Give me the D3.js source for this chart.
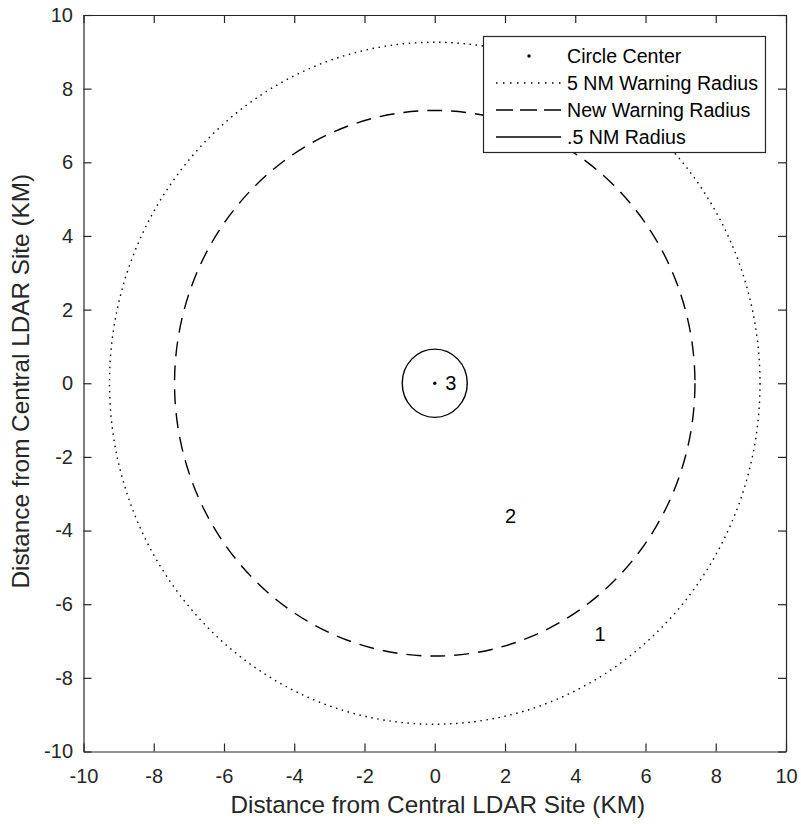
<!DOCTYPE html>
<html>
<head>
<meta charset="utf-8">
<script src="https://cdn.jsdelivr.net/npm/d3@7"></script>
<style>
html,body{margin:0;padding:0;background:#fff;}
text{font-family:"Liberation Sans",Arial,Helvetica,sans-serif;fill:#262626;}
</style>
</head>
<body>
<svg id="chart" width="801" height="824"></svg>
<script>
// ---- data ----
const xTicks = [-10,-8,-6,-4,-2,0,2,4,6,8,10];
const yTicks = [-10,-8,-6,-4,-2,0,2,4,6,8,10];
const circleNames = ["5 NM Warning Radius","New Warning Radius",".5 NM Radius"];
const circleRadiiKm = [9.26, 7.408, 0.926];
const circleStyles = ["dotted","dashed","solid"];
const centerPoint = [0, 0];
const zoneLabels = ["3","2","1"];
const zoneLabelX = [0.3, 2.0, 4.55];
const zoneLabelY = [0, -3.6, -6.8];
const xLabel = "Distance from Central LDAR Site (KM)";
const yLabel = "Distance from Central LDAR Site (KM)";

(function(){
const svg = d3.select("#chart");
const L = 83.5, R = 786, T = 15, B = 751.5;
const x = d3.scaleLinear().domain([-10,10]).range([L,R]);
const y = d3.scaleLinear().domain([-10,10]).range([B,T]);
const axisColor = "#262626";
const dash = {dotted:"1.5 4.6", dashed:"15 9", solid:null};
const fmt = d => String(d);

// circles
const g = svg.append("g");
circleRadiiKm.forEach((r,i)=>{
  g.append("ellipse")
    .attr("cx", x(centerPoint[0])).attr("cy", y(centerPoint[1]))
    .attr("rx", x(r)-x(0)).attr("ry", y(0)-y(r))
    .attr("fill","none").attr("stroke","#000").attr("stroke-width",1.4)
    .attr("stroke-dasharray", dash[circleStyles[i]]);
});
// center point
g.append("circle").attr("cx", x(centerPoint[0])).attr("cy", y(centerPoint[1]))
  .attr("r",1.7).attr("fill","#000");

// zone labels
zoneLabels.forEach((t,i)=>{
  g.append("text").attr("x", x(zoneLabelX[i])).attr("y", y(zoneLabelY[i]))
    .attr("dy","0.36em").attr("font-size",20).style("fill","#000").text(t);
});

// axes
const tickLen = 8;
const axB = svg.append("g").attr("transform",`translate(0,${B})`)
  .call(d3.axisBottom(x).tickValues(xTicks).tickSizeInner(-tickLen).tickSizeOuter(0).tickPadding(17).tickFormat(fmt));
const axT = svg.append("g").attr("transform",`translate(0,${T})`)
  .call(d3.axisTop(x).tickValues(xTicks).tickSizeInner(-tickLen).tickSizeOuter(0).tickFormat(""));
const axL = svg.append("g").attr("transform",`translate(${L},0)`)
  .call(d3.axisLeft(y).tickValues(yTicks).tickSizeInner(-tickLen).tickSizeOuter(0).tickPadding(10.5).tickFormat(fmt));
const axR = svg.append("g").attr("transform",`translate(${R},0)`)
  .call(d3.axisRight(y).tickValues(yTicks).tickSizeInner(-tickLen).tickSizeOuter(0).tickFormat(""));
[axB,axT,axL,axR].forEach(a=>{
  a.selectAll("path.domain").attr("stroke",axisColor).attr("stroke-width",1.2);
  a.selectAll(".tick line").attr("stroke",axisColor).attr("stroke-width",1.2);
  a.selectAll(".tick text").attr("font-size",20).attr("font-family","'Liberation Sans',Arial,sans-serif").style("fill",axisColor);
});

// axis titles
svg.append("text").attr("x",(L+R)/2 + 3).attr("y",813).attr("text-anchor","middle")
  .attr("font-size",24.3).text(xLabel);
svg.append("text").attr("transform",`translate(20.5,${(T+B)/2 - 2}) rotate(-90)`)
  .attr("text-anchor","middle").attr("dy","0.36em").attr("font-size",24.3).text(yLabel);

// legend
const lg = svg.append("g");
const lx0 = 483.5, ly0 = 36.5, lw = 282, lh = 116;
lg.append("rect").attr("x",lx0).attr("y",ly0).attr("width",lw).attr("height",lh)
  .attr("fill","#fff").attr("stroke",axisColor).attr("stroke-width",1.2);
const legendNames = ["Circle Center"].concat(circleNames);
const legendStyles = ["point"].concat(circleStyles);
legendNames.forEach((n,i)=>{
  const cy = 56 + i*27;
  if (legendStyles[i] === "point") {
    lg.append("circle").attr("cx",529).attr("cy",cy).attr("r",1.7).attr("fill","#000");
  } else {
    lg.append("line").attr("x1",496).attr("x2",561).attr("y1",cy).attr("y2",cy)
      .attr("stroke","#000").attr("stroke-width",1.4)
      .attr("stroke-dasharray", legendStyles[i]==="dashed" ? "17 7" : (legendStyles[i]==="dotted" ? "1.5 5.5" : null));
  }
  lg.append("text").attr("x",567).attr("y",cy).attr("dy","0.36em").attr("font-size",19.6)
    .style("fill","#000").text(n);
});
})();
</script>
</body>
</html>
